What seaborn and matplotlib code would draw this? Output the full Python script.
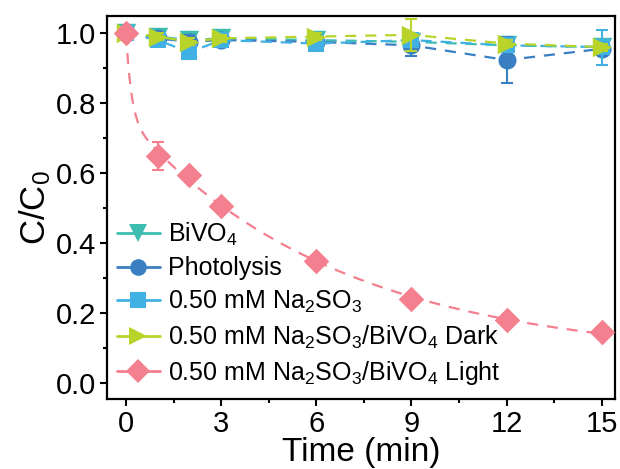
import numpy as np
import pandas as pd
import matplotlib
matplotlib.use("Agg")
import matplotlib.pyplot as plt
import seaborn as sns
from matplotlib.lines import Line2D
from matplotlib.ticker import MultipleLocator

# time points (min)
time = [0, 1, 2, 3, 6, 9, 12, 15]

bivo4 = [1.00, 0.99, 0.98, 0.985, 0.98, 0.975, 0.965, 0.96]
bivo4_err = [0.01, 0.01, 0.015, 0.01, 0.01, 0.02, 0.01, 0.01]
photolysis = [1.00, 0.985, 0.975, 0.98, 0.975, 0.965, 0.923, 0.955]
photolysis_err = [0.01, 0.01, 0.02, 0.01, 0.01, 0.03, 0.065, 0.01]
na2so3 = [1.00, 0.98, 0.945, 0.98, 0.97, 0.98, 0.965, 0.96]
na2so3_err = [0.01, 0.01, 0.01, 0.02, 0.02, 0.02, 0.02, 0.05]
dark = [1.00, 0.99, 0.975, 0.985, 0.99, 0.995, 0.97, 0.96]
dark_err = [0.01, 0.01, 0.01, 0.01, 0.01, 0.045, 0.01, 0.01]
light = [1.00, 0.65, 0.595, 0.505, 0.35, 0.24, 0.18, 0.145]
light_err = [0.005, 0.04, 0.01, 0.01, 0.01, 0.01, 0.01, 0.01]

labels = ["BiVO$_4$", "Photolysis", "0.50 mM Na$_2$SO$_3$",
          "0.50 mM Na$_2$SO$_3$/BiVO$_4$ Dark",
          "0.50 mM Na$_2$SO$_3$/BiVO$_4$ Light"]
series = [bivo4, photolysis, na2so3, dark, light]
errors = [bivo4_err, photolysis_err, na2so3_err, dark_err, light_err]
colors = ["#3dbdb2", "#3a7fc1", "#41b1e3", "#b8d42a", "#f47f8e"]
markers = ["v", "o", "s", ">", "D"]
msizes = [14, 13, 12, 14, 13]

sns.set_style("ticks")
plt.rcParams["font.family"] = ["Liberation Sans", "DejaVu Sans"]
plt.rcParams["mathtext.default"] = "regular"
for key in ["text.color", "axes.labelcolor", "xtick.color", "ytick.color", "axes.edgecolor"]:
    plt.rcParams[key] = "black"

fig, ax = plt.subplots(figsize=(6.2, 4.69), dpi=100)

t = np.array(time, dtype=float)
tt = np.linspace(0, 15, 300)

for i, (vals, err, col, mk, ms) in enumerate(zip(series, errors, colors, markers, msizes)):
    y = np.array(vals)
    z = 2 + 2 * i
    # dashed guide line
    if i < 4:
        ax.plot(t, y, color=col, linestyle=(0, (5, 4)), linewidth=1.6, zorder=z)
    else:
        # two-exponential decay fitted to the data
        best = None
        for k1 in np.linspace(0.5, 6.0, 111):
            for k2 in np.linspace(0.02, 0.5, 97):
                A = np.vstack([np.exp(-k1 * t), np.exp(-k2 * t), np.ones_like(t)]).T
                coef = np.linalg.lstsq(A, y, rcond=None)[0]
                sse = np.sum((A @ coef - y) ** 2)
                if best is None or sse < best[0]:
                    best = (sse, k1, k2, coef)
        _, k1, k2, c = best
        ax.plot(tt, c[0] * np.exp(-k1 * tt) + c[1] * np.exp(-k2 * tt) + c[2],
                color=col, linestyle=(0, (5, 4)), linewidth=1.6, zorder=z)
    ax.errorbar(t, y, yerr=err, fmt="none", ecolor=col, elinewidth=1.5,
                capsize=4.5, capthick=1.5, zorder=z)
    df = pd.DataFrame({"t": t, "c": y})
    sns.scatterplot(data=df, x="t", y="c", ax=ax, color=col, marker=mk,
                    s=ms ** 2, linewidth=0, legend=False, zorder=z + 1)

ax.set_xlim(-0.6, 15.42)
ax.set_ylim(-0.046, 1.049)
ax.xaxis.set_major_locator(MultipleLocator(3))
ax.xaxis.set_minor_locator(MultipleLocator(1.5))
ax.yaxis.set_major_locator(MultipleLocator(0.2))
ax.yaxis.set_minor_locator(MultipleLocator(0.1))
ax.tick_params(which="major", direction="out", length=5, width=1.5, labelsize=21, pad=3)
ax.tick_params(which="minor", direction="out", length=3, width=1.5)
for sp in ax.spines.values():
    sp.set_linewidth(1.6)
ax.set_xlabel("Time (min)", fontsize=24, labelpad=-1)
ax.set_ylabel("C/C$_0$", fontsize=25, labelpad=2)

handles = [Line2D([], [], color=col, marker=mk, markersize=ms - 1, linewidth=2,
                  markeredgewidth=0)
           for col, mk, ms in zip(colors, markers, msizes)]
ax.legend(handles, labels, loc="lower left", frameon=False,
          fontsize=18, handlelength=1.7, handletextpad=0.35,
          labelspacing=0.34, borderaxespad=0.0,
          bbox_to_anchor=(0.0, 0.005))

fig.subplots_adjust(left=0.1726, right=0.992, top=0.966, bottom=0.149)
fig.savefig("out.png", dpi=100)
